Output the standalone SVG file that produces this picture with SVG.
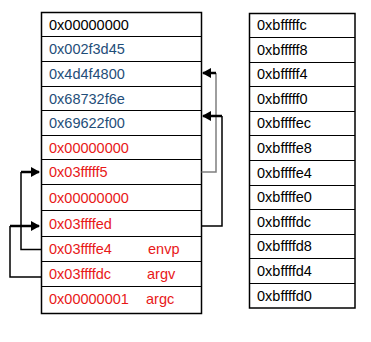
<svg xmlns="http://www.w3.org/2000/svg" width="371" height="342" viewBox="0 0 371 342">
<style>
.t{font-family:"Liberation Sans",Arial,sans-serif;font-size:14.5px}
.k{fill:#000}
.b{fill:#1F4E79}
.r{fill:#E81818}
.box{fill:#fff;stroke:#000;stroke-width:1.5}
.sep{stroke:#000;stroke-width:1}
.h{fill:none;stroke:#000;stroke-width:2.5}
.v{fill:none;stroke:#000;stroke-width:1.5}
.g{fill:none;stroke:#7f7f7f;stroke-width:1.5}
</style>
<defs>
<marker id="ah" markerWidth="4" markerHeight="4" refX="3.2" refY="2" orient="auto" markerUnits="strokeWidth">
<path d="M0,0 L3.6,2 L0,4 z" fill="#000"/>
</marker>
</defs>
<rect width="371" height="342" fill="#fff"/>
<g id="stack">
<rect class="box" x="41.5" y="12.5" width="160" height="301"/>
<path class="sep" d="M41.5,36.5H201.5M41.5,61.5H201.5M41.5,86.5H201.5M41.5,110.5H201.5M41.5,135.5H201.5M41.5,159.5H201.5M41.5,184.5H201.5M41.5,210.5H201.5M41.5,236.5H201.5M41.5,261.5H201.5M41.5,286.5H201.5"/>
<text class="t k" x="49" y="30">0x00000000</text>
<text class="t b" x="49" y="54">0x002f3d45</text>
<text class="t b" x="49" y="79">0x4d4f4800</text>
<text class="t b" x="49" y="104">0x68732f6e</text>
<text class="t b" x="49" y="128">0x69622f00</text>
<text class="t r" x="49" y="153">0x00000000</text>
<text class="t r" x="49" y="177">0x03fffff5</text>
<text class="t r" x="49" y="203">0x00000000</text>
<text class="t r" x="49" y="229">0x03ffffed</text>
<text class="t r" x="49" y="254">0x03ffffe4</text>
<text class="t r" x="148" y="254">envp</text>
<text class="t r" x="49" y="279">0x03ffffdc</text>
<text class="t r" x="147" y="279">argv</text>
<text class="t r" x="49" y="304">0x00000001</text>
<text class="t r" x="146" y="304">argc</text>
</g>
<g id="addresses">
<rect class="box" x="249.5" y="13.5" width="105.5" height="294.5"/>
<path class="sep" d="M249.5,37.5H355M249.5,62.5H355M249.5,86.5H355M249.5,111.5H355M249.5,135.5H355M249.5,160.5H355M249.5,185.5H355M249.5,209.5H355M249.5,234.5H355M249.5,258.5H355M249.5,283.5H355"/>
<text class="t k" x="257" y="30">0xbfffffc</text>
<text class="t k" x="257" y="55">0xbfffff8</text>
<text class="t k" x="257" y="79">0xbfffff4</text>
<text class="t k" x="257" y="104">0xbfffff0</text>
<text class="t k" x="257" y="128">0xbffffec</text>
<text class="t k" x="257" y="153">0xbffffe8</text>
<text class="t k" x="257" y="178">0xbffffe4</text>
<text class="t k" x="257" y="202">0xbffffe0</text>
<text class="t k" x="257" y="227">0xbffffdc</text>
<text class="t k" x="257" y="251">0xbffffd8</text>
<text class="t k" x="257" y="276">0xbffffd4</text>
<text class="t k" x="257" y="301">0xbffffd0</text>
</g>
<g id="connectors">
<path class="g" d="M201.5,172H216V73"/>
<path class="h" d="M216,73H203" marker-end="url(#ah)"/>
<path class="v" d="M201.5,226H222V116"/>
<path class="h" d="M222,116H203" marker-end="url(#ah)"/>
<path class="v" d="M41,249.5H21V172"/>
<path class="h" d="M21,172H39" marker-end="url(#ah)"/>
<path class="v" d="M41,277H10V226"/>
<path class="h" d="M10,226H39" marker-end="url(#ah)"/>
</g>
</svg>
